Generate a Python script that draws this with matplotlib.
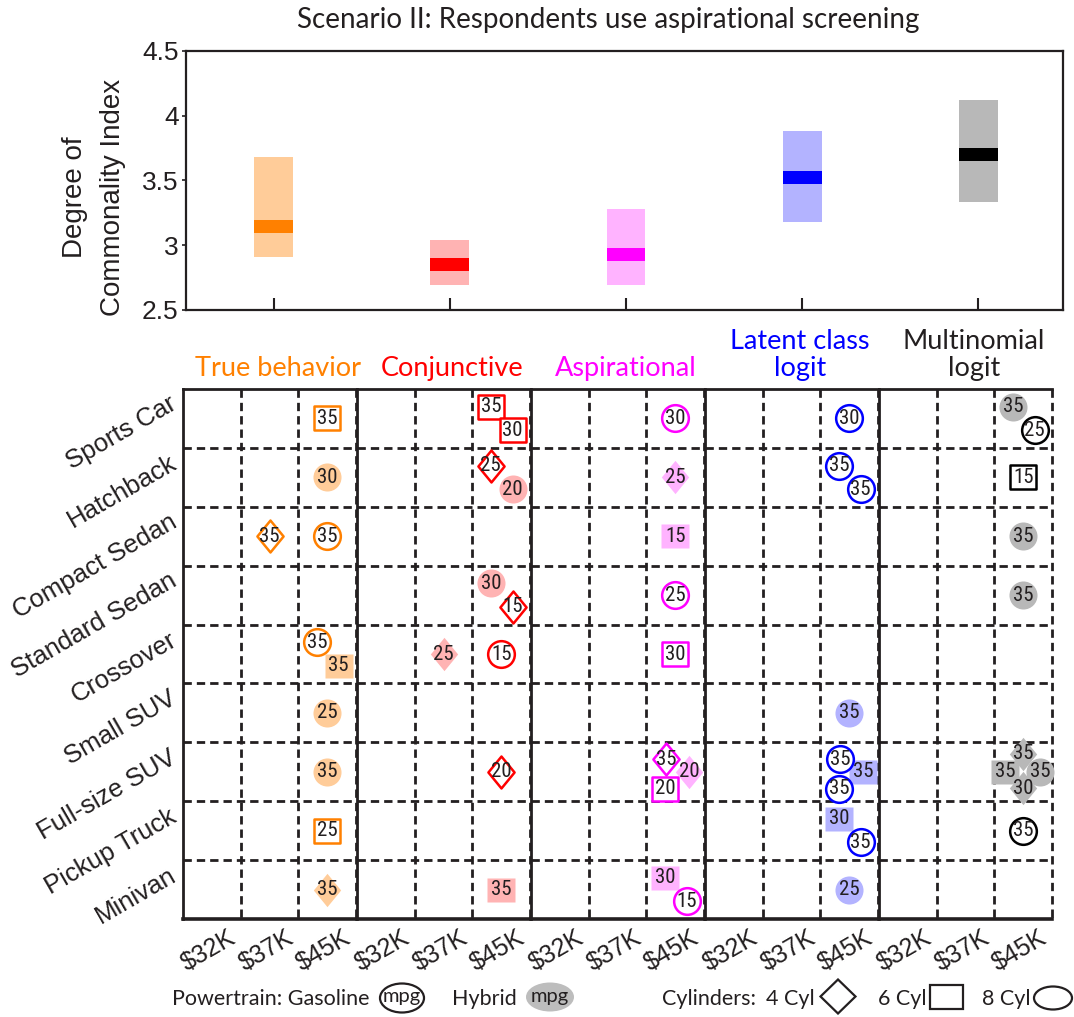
import matplotlib
matplotlib.use("Agg")
import matplotlib.pyplot as plt
import numpy as np
from matplotlib import font_manager as fm
from matplotlib.path import Path
from matplotlib.patches import Ellipse, Rectangle, Polygon
from matplotlib.transforms import ScaledTranslation


def first_font(*names):
    for name in names:
        try:
            fm.findfont(fm.FontProperties(family=name), fallback_to_default=False)
            return name
        except ValueError:
            continue
    return "DejaVu Sans"


ARIAL = first_font("Liberation Sans", "Arial")
MYRIAD = first_font("Lato", "Open Sans")
NARROW = first_font("Liberation Sans Narrow", "Roboto Condensed", "Open Sans Condensed")
NUM_SIZE = 15 if NARROW != "DejaVu Sans" else 11.5
if NARROW == "DejaVu Sans":
    NARROW = ARIAL

INK = "#231F20"

# --- data -------------------------------------------------------------
models = ["True behavior", "Conjunctive", "Aspirational", "Latent class\nlogit", "Multinomial\nlogit"]
dark_colors = ["#FF8000", "#FF0000", "#FF00FF", "#0000FF", "#000000"]
light_colors = ["#FFCC99", "#FFB3B3", "#FFB3FF", "#B3B3FF", "#B8B8B8"]
title_colors = ["#FF8000", "#FF0000", "#FF00FF", "#0000FF", INK]

# degree of commonality index: range and median per model
dci_low = [2.91, 2.69, 2.69, 3.18, 3.335]
dci_high = [3.68, 3.04, 3.28, 3.885, 4.12]
dci_median = [3.145, 2.85, 2.93, 3.52, 3.70]

body_types = ["Sports Car", "Hatchback", "Compact Sedan", "Standard Sedan", "Crossover",
              "Small SUV", "Full-size SUV", "Pickup Truck", "Minivan"]
prices = ["$32K", "$37K", "$45K"]

# (body type, price, cylinders, powertrain, mpg)
true_behavior = [
    ("Sports Car", "$45K", 6, "Gasoline", 35),
    ("Hatchback", "$45K", 8, "Hybrid", 30),
    ("Compact Sedan", "$37K", 4, "Gasoline", 35),
    ("Compact Sedan", "$45K", 8, "Gasoline", 35),
    ("Crossover", "$45K", 8, "Gasoline", 35),
    ("Crossover", "$45K", 6, "Hybrid", 35),
    ("Small SUV", "$45K", 8, "Hybrid", 25),
    ("Full-size SUV", "$45K", 8, "Hybrid", 35),
    ("Pickup Truck", "$45K", 6, "Gasoline", 25),
    ("Minivan", "$45K", 4, "Hybrid", 35),
]
conjunctive = [
    ("Sports Car", "$45K", 6, "Gasoline", 35),
    ("Sports Car", "$45K", 6, "Gasoline", 30),
    ("Hatchback", "$45K", 4, "Gasoline", 25),
    ("Hatchback", "$45K", 8, "Hybrid", 20),
    ("Standard Sedan", "$45K", 8, "Hybrid", 30),
    ("Standard Sedan", "$45K", 4, "Gasoline", 15),
    ("Crossover", "$37K", 4, "Hybrid", 25),
    ("Crossover", "$45K", 8, "Gasoline", 15),
    ("Full-size SUV", "$45K", 4, "Gasoline", 20),
    ("Minivan", "$45K", 6, "Hybrid", 35),
]
aspirational = [
    ("Sports Car", "$45K", 8, "Gasoline", 30),
    ("Hatchback", "$45K", 4, "Hybrid", 25),
    ("Compact Sedan", "$45K", 6, "Hybrid", 15),
    ("Standard Sedan", "$45K", 8, "Gasoline", 25),
    ("Crossover", "$45K", 6, "Gasoline", 30),
    ("Full-size SUV", "$45K", 4, "Gasoline", 35),
    ("Full-size SUV", "$45K", 4, "Hybrid", 20),
    ("Full-size SUV", "$45K", 6, "Gasoline", 20),
    ("Minivan", "$45K", 6, "Hybrid", 30),
    ("Minivan", "$45K", 8, "Gasoline", 15),
]
latent_class = [
    ("Sports Car", "$45K", 8, "Gasoline", 30),
    ("Hatchback", "$45K", 8, "Gasoline", 35),
    ("Hatchback", "$45K", 8, "Gasoline", 35),
    ("Small SUV", "$45K", 8, "Hybrid", 35),
    ("Full-size SUV", "$45K", 8, "Gasoline", 35),
    ("Full-size SUV", "$45K", 6, "Hybrid", 35),
    ("Full-size SUV", "$45K", 8, "Gasoline", 35),
    ("Pickup Truck", "$45K", 6, "Hybrid", 30),
    ("Pickup Truck", "$45K", 8, "Gasoline", 35),
    ("Minivan", "$45K", 8, "Hybrid", 25),
]
multinomial = [
    ("Sports Car", "$45K", 8, "Hybrid", 35),
    ("Sports Car", "$45K", 8, "Gasoline", 25),
    ("Hatchback", "$45K", 6, "Gasoline", 15),
    ("Compact Sedan", "$45K", 8, "Hybrid", 35),
    ("Standard Sedan", "$45K", 8, "Hybrid", 35),
    ("Full-size SUV", "$45K", 4, "Hybrid", 35),
    ("Full-size SUV", "$45K", 6, "Hybrid", 35),
    ("Full-size SUV", "$45K", 8, "Hybrid", 35),
    ("Full-size SUV", "$45K", 4, "Hybrid", 30),
    ("Pickup Truck", "$45K", 8, "Gasoline", 35),
]
panels = [true_behavior, conjunctive, aspirational, latent_class, multinomial]

# --- marker styles ----------------------------------------------------
DIAMOND = Path([(0, 1), (0.82, 0), (0, -1), (-0.82, 0), (0, 1)], closed=True)
SQUARE = Path([(-1, -0.9), (1, -0.9), (1, 0.9), (-1, 0.9), (-1, -0.9)], closed=True)
SHAPE = {4: DIAMOND, 6: SQUARE, 8: "o"}
MSIZE = {4: 23, 6: 18.5, 8: 19.2}

# where markers sit when several share one cell (column / row units)
SPREAD = {
    1: [(0, 0)],
    2: [(-0.18, -0.2), (0.2, 0.2)],
    3: [(-0.16, -0.21), (0.24, 0.0), (-0.17, 0.29)],
    4: [(0.0, -0.31), (-0.31, 0.0), (0.29, 0.0), (0.0, 0.28)],
}

W, H = 1074, 1017
fig = plt.figure(figsize=(W / 100, H / 100), dpi=100)


def px_box(left, top, right, bottom):
    return [left / W, 1 - bottom / H, (right - left) / W, (bottom - top) / H]


# --- top: degree of commonality --------------------------------------
ax = fig.add_axes(px_box(185.5, 51, 1063, 310))
xpos = np.arange(1, len(models) + 1)
ax.bar(xpos, np.subtract(dci_high, dci_low), bottom=dci_low, width=0.22,
       color=light_colors, linewidth=0, zorder=2)
ax.bar(xpos, 0.1, bottom=np.subtract(dci_median, 0.05), width=0.22,
       color=dark_colors, linewidth=0, zorder=3)
ax.set_xlim(0.5, 5.48)
ax.set_ylim(2.5, 4.5)
ax.set_xticks(xpos)
ax.set_xticklabels([])
ax.set_yticks([2.5, 3, 3.5, 4, 4.5])
ax.set_yticklabels(["2.5", "3", "3.5", "4", "4.5"], family=ARIAL, fontsize=19)
ax.tick_params(axis="x", direction="in", length=8.5, width=1.5, colors=INK)
ax.tick_params(axis="y", direction="out", length=3, width=1.2, pad=2, colors=INK)
for s in ax.spines.values():
    s.set_linewidth(1.6)
    s.set_color(INK)

fig.text(94 / W, 1 - 197 / H, "Degree of\nCommonality Index", rotation=90,
         ha="center", va="center", family=ARIAL, fontsize=20, color=INK, linespacing=1.55)
fig.text(608 / W, 1 - 28 / H, "Scenario II: Respondents use aspirational screening",
         ha="center", va="baseline", family=MYRIAD, fontsize=20, color=INK)

# --- bottom: vehicles chosen by each model ---------------------------
price_idx = {p: i for i, p in enumerate(prices)}
row_idx = {b: i for i, b in enumerate(body_types)}
lefts = [183, 357, 531, 705, 879]
dash = (0, (3.0, 1.8))

for k, left in enumerate(lefts):
    pax = fig.add_axes(px_box(left, 389, left + 173, 919))
    pax.set_xlim(0, 3)
    pax.set_ylim(9, 0)
    pax.vlines([1, 2, 3], 0, 9, colors=INK, linewidth=2.0, linestyles=dash, clip_on=False, zorder=1)
    pax.hlines(np.arange(1, 9), 0, 3, colors=INK, linewidth=2.0, linestyles=dash, clip_on=False, zorder=1)
    pax.spines["right"].set_visible(False)
    for side in ["left", "top", "bottom"]:
        pax.spines[side].set_color(INK)
        pax.spines[side].set_linewidth(2.0)
    pax.spines["bottom"].set_linewidth(2.6)

    pax.set_xticks(np.arange(3) + 0.5)
    pax.set_xticklabels(prices, rotation=30, ha="right", va="top", rotation_mode="anchor",
                        family=ARIAL, fontsize=18, color=INK)
    pax.tick_params(axis="x", length=0, pad=5)
    shift = ScaledTranslation(16 / 100, 0, fig.dpi_scale_trans)
    for lab in pax.get_xticklabels():
        lab.set_transform(lab.get_transform() + shift)

    if k == 0:
        pax.set_yticks(np.arange(9) + 0.5)
        pax.set_yticklabels(body_types, rotation=30, ha="right", va="center",
                            rotation_mode="anchor", family=ARIAL, fontsize=18.5, color=INK)
        pax.tick_params(axis="y", length=0, pad=6)
        lift = ScaledTranslation(0, 16 / 100, fig.dpi_scale_trans)
        for lab in pax.get_yticklabels():
            lab.set_transform(lab.get_transform() + lift)
    else:
        pax.set_yticks([])

    pax.text(0.55, 1.015, models[k], transform=pax.transAxes, ha="center", va="bottom",
             color=title_colors[k], family=MYRIAD, fontsize=19.5, linespacing=1.12)

    cells = {}
    for v in panels[k]:
        cells.setdefault((v[0], v[1]), []).append(v)
    for (body, price), group in cells.items():
        for (dx, dy), (_, _, cyl, power, mpg) in zip(SPREAD[len(group)], group):
            x = price_idx[price] + 0.5 + dx
            y = row_idx[body] + 0.5 + dy
            if power == "Hybrid":
                pax.plot(x, y, ls="none", marker=SHAPE[cyl], ms=MSIZE[cyl] + 1,
                         mfc=light_colors[k], mec="none", zorder=3, clip_on=False)
                z = 3.5
            else:
                pax.plot(x, y, ls="none", marker=SHAPE[cyl], ms=MSIZE[cyl],
                         mfc="white", mec=dark_colors[k], mew=1.8, zorder=4, clip_on=False)
                z = 4.5
            pax.text(x, y, str(mpg), ha="center", va="center", family=NARROW,
                     fontsize=NUM_SIZE, color=INK, zorder=z)

# --- key ------------------------------------------------------------
key = fig.add_axes([0, 0, 1, 1])
key.set_xlim(0, W)
key.set_ylim(H, 0)
key.axis("off")
base = 1005
kw = dict(family=MYRIAD, fontsize=15.5, color=INK, va="baseline")
key.text(369, base, "Powertrain: Gasoline", ha="right", **kw)
key.add_patch(Ellipse((402, 998), 44, 29, fill=False, ec=INK, lw=1.6))
key.text(402, base - 3, "mpg", ha="center", family=MYRIAD, fontsize=14.5, color=INK, va="baseline")
key.text(452, base, "Hybrid", ha="left", **kw)
key.add_patch(Ellipse((550, 997), 48, 29, fc="#BDBDBD", ec="none"))
key.text(550, base - 3, "mpg", ha="center", family=MYRIAD, fontsize=14.5, color=INK, va="baseline")
key.text(662, base, "Cylinders:", ha="left", **kw)
key.text(815, base, "4 Cyl", ha="right", **kw)
key.add_patch(Polygon([(838, 979.5), (855.5, 996.5), (838, 1013.5), (820.5, 996.5)],
                      closed=True, fill=False, ec=INK, lw=1.6))
key.text(927, base, "6 Cyl", ha="right", **kw)
key.add_patch(Rectangle((930, 985), 33, 24, fill=False, ec=INK, lw=1.6))
key.text(1031, base, "8 Cyl", ha="right", **kw)
key.add_patch(Ellipse((1053, 998), 38, 23, fill=False, ec=INK, lw=1.6))

fig.savefig("out.png", dpi=100)
